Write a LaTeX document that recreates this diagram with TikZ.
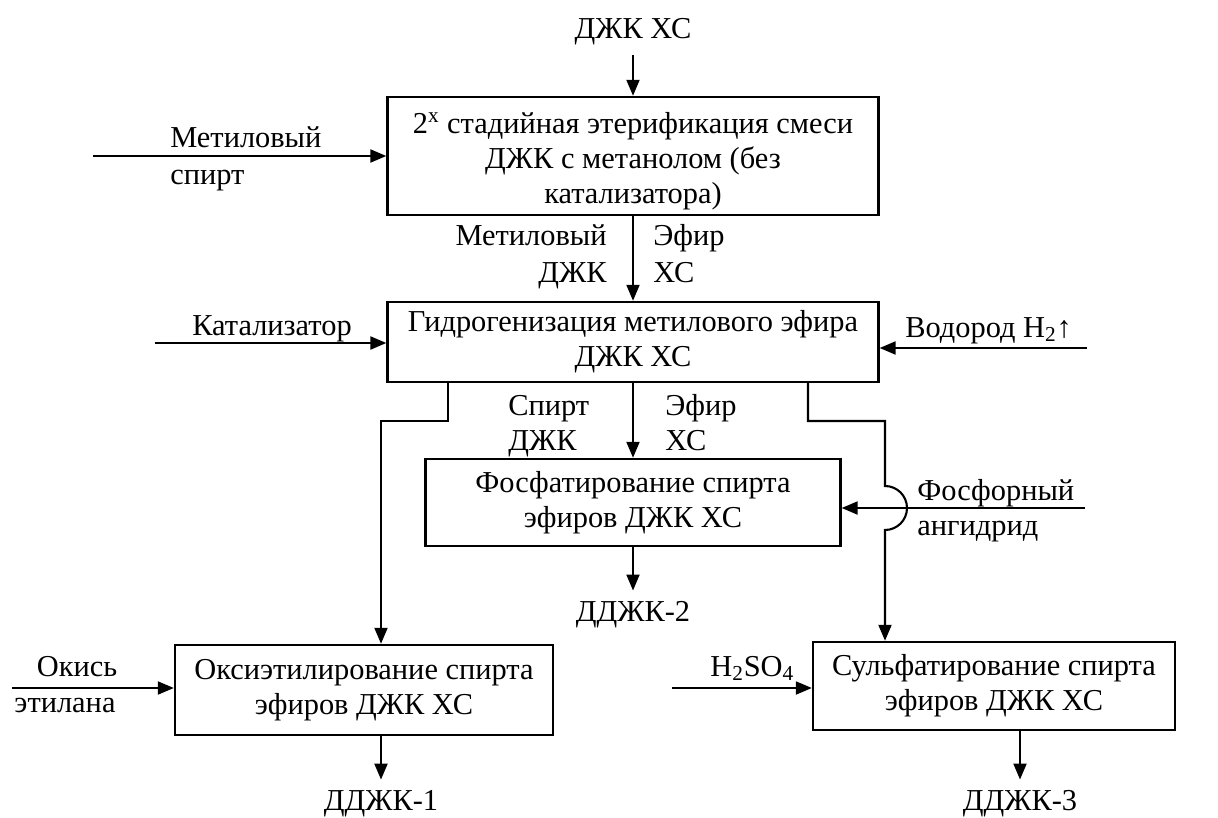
\documentclass[tikz,border=0pt]{standalone}
\usepackage{fontspec}
\setmainfont{Liberation Serif}
\usetikzlibrary{arrows.meta,calc,positioning}

\begin{document}
\begin{tikzpicture}[
    x=0.02cm, y=-0.02cm,
    every node/.style={font=\fontsize{17.3pt}{20pt}\selectfont, inner sep=0pt},
    stage/.style={draw=black, line width=1.4pt, align=center},
    flow/.style={draw=black, line width=1.2pt, -{Triangle[length=0.32cm, width=0.26cm]}},
    lbl/.style={anchor=base},
    lbll/.style={anchor=base west},
    lblr/.style={anchor=base east}
]
    \useasboundingbox (0,0) rectangle (1218,818);

    % --- Stufen (Kaesten) ---
    \node[stage, minimum width=9.82cm, minimum height=2.36cm] (ester) at (633,156) {\rule{0pt}{0.62cm}2\textsuperscript{х} стадийная этерификация смеси\\ДЖК с метанолом (без\\катализатора)};
    \node[stage, minimum width=9.82cm, minimum height=1.6cm] (hydro) at (633,342) {Гидрогенизация метилового эфира\\ДЖК ХС};
    \node[stage, minimum width=8.3cm, minimum height=1.74cm] (phos) at (633,502.5) {Фосфатирование спирта\\эфиров ДЖК ХС};
    \node[stage, minimum width=7.56cm, minimum height=1.8cm] (oxy) at (364,690) {Оксиэтилирование спирта\\эфиров ДЖК ХС};
    \node[stage, minimum width=7.24cm, minimum height=1.76cm] (sulf) at (994,686) {Сульфатирование спирта\\эфиров ДЖК ХС};

    % --- Eingang oben ---
    \node[lbl] (src) at (633,38) {ДЖК ХС};
    \draw[flow] ([yshift=-0.2cm]src.south) -- (ester.north);

    % --- Metanol ---
    \node[lbll] (meth) at (170,147) {Метиловый};
    \node[lbll] (methb) at (170,184) {спирт};
    \coordinate (methin) at (93,156);
    \draw[flow] (methin) -- (methin -| ester.west);

    % --- Stufe 1 -> Stufe 2 ---
    \draw[flow] (ester.south) -- (hydro.north);
    \node[lblr] (mea) at (607,245) {Метиловый};
    \node[lblr] (meb) at (607,282) {ДЖК};
    \node[lbll] (mec) at (653,245) {Эфир};
    \node[lbll] (med) at (653,282) {ХС};

    % --- Katalysator & Wasserstoff ---
    \node[lbl] (cat) at (272,335) {Катализатор};
    \coordinate (catin) at (155,343);
    \draw[flow] (catin) -- (catin -| hydro.west);
    \node[lbll] (hyd) at (905,337) {Водород H\textsubscript{2}↑};
    \coordinate (h2in) at (1087,348);
    \draw[flow] (h2in) -- (h2in -| hydro.east);

    % --- Stufe 2 -> Phosphatierung ---
    \draw[flow] (hydro.south) -- (phos.north);
    \node[lbll] (ala) at (508,415) {Спирт};
    \node[lbll] (alb) at (508,450) {ДЖК};
    \node[lbll] (alc) at (665,415) {Эфир};
    \node[lbll] (ald) at (665,450) {ХС};

    \node[lbll] (pa) at (917,500) {Фосфорный};
    \node[lbll] (pb) at (917,535) {ангидрид};
    \coordinate (phin) at (1085,508);
    \draw[flow] (phin) -- (phin -| phos.east);

    \node[lbl] (dd2) at (633,621) {ДДЖК-2};
    \draw[flow] (phos.south) -- ([yshift=0.2cm]dd2.north);

    % --- Abzweig links -> Oxyethylierung ---
    \coordinate (lt) at (448,421);
    \coordinate (lb) at (381,421);
    \draw[flow] (hydro.south -| lt) -- (lt) -- (lb) -- (lb |- oxy.north);

    \node[lbl] (eoa) at (77,676) {Окись};
    \node[lbl] (eob) at (65,712) {этилана};
    \coordinate (eoin) at (12,688);
    \draw[flow] (eoin) -- (eoin -| oxy.west);

    \node[lbl] (dd1) at (381,810) {ДДЖК-1};
    \draw[flow] (dd1 |- oxy.south) -- ([yshift=0.2cm]dd1.north);

    % --- Abzweig rechts -> Sulfatierung (mit Bruecke) ---
    \coordinate (rt) at (808,421);
    \coordinate (rb) at (885,421);
    \coordinate (bump) at (885,486);
    \draw[flow] (hydro.south -| rt) -- (rt) -- (rb) -- (bump)
        arc[start angle=90, end angle=-90, radius=0.44cm] -- (rb |- sulf.north);

    \node[lbll] (acid) at (710,676) {H\textsubscript{2}SO\textsubscript{4}};
    \coordinate (acin) at (672,688);
    \draw[flow] (acin) -- (acin -| sulf.west);

    \node[lbl] (dd3) at (1020,810) {ДДЖК-3};
    \draw[flow] (dd3 |- sulf.south) -- ([yshift=0.2cm]dd3.north);

\end{tikzpicture}
\end{document}
